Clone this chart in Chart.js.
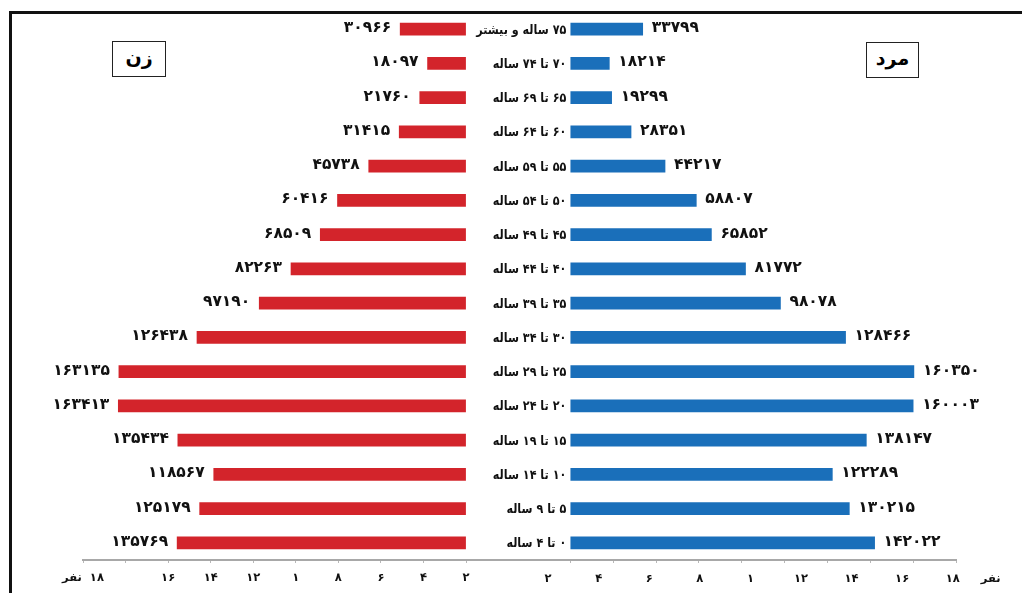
<!DOCTYPE html>
<html>
<head>
<meta charset="utf-8">
<script src="https://cdn.jsdelivr.net/npm/chart.js@4.4.1/dist/chart.umd.min.js"></script>
<style>
  html, body { margin:0; padding:0; background:#fff; }
  body { width:1022px; height:593px; position:relative; overflow:hidden; font-family:"DejaVu Sans", sans-serif; }
  .frame { position:absolute; left:9px; top:11px; width:1100px; height:700px; border-top:3px solid #111; border-left:3px solid #111; }
  .box { position:absolute; border:1.5px solid #222; background:#fff; font-weight:bold; font-size:19px; text-align:center; direction:rtl; box-sizing:border-box; }
  .wrap { position:absolute; top:0; height:593px; }
  canvas { direction:rtl; }
</style>
</head>
<body>
<div class="frame"></div>
<div class="wrap" id="wrapW" style="left:0;width:518px;"><canvas id="womenChart"></canvas></div>
<div class="wrap" id="wrapM" style="left:440px;width:582px;"><canvas id="menChart"></canvas></div>
<div class="box" style="left:112px;top:41px;width:54px;height:36px;line-height:30px;">زن</div>
<div class="box" style="left:866px;top:42px;width:53px;height:36px;line-height:30px;">مرد</div>

<script>
/* ===========================
   DATA
=========================== */
const ageGroups = [
    "۰ تا ۴ ساله", "۵ تا ۹ ساله", "۱۰ تا ۱۴ ساله", "۱۵ تا ۱۹ ساله",
    "۲۰ تا ۲۴ ساله", "۲۵ تا ۲۹ ساله", "۳۰ تا ۳۴ ساله", "۳۵ تا ۳۹ ساله",
    "۴۰ تا ۴۴ ساله", "۴۵ تا ۴۹ ساله", "۵۰ تا ۵۴ ساله", "۵۵ تا ۵۹ ساله",
    "۶۰ تا ۶۴ ساله", "۶۵ تا ۶۹ ساله", "۷۰ تا ۷۴ ساله", "۷۵ ساله و بیشتر"
];

const women = [135769, 125179, 118567, 135434, 163413, 163135, 126438, 97190,
               82263, 68509, 60416, 45738, 31415, 21760, 18097, 30966];

const men = [142022, 130215, 122289, 138147, 160003, 160350, 128466, 98078,
             81772, 65852, 58807, 44217, 28351, 19299, 18214, 33799];

// tick marks on the axis line, in people
const tickValues = [0, 20000, 40000, 60000, 80000, 100000, 120000, 140000, 160000, 180000];
const womenTickLabels = ["۲", "۴", "۶", "۸", "۱", "۱۲", "۱۴", "۱۶", "", "۱۸  نفر"];

// right side labels sit on their own spacing
const menTickPos = [2, 4, 6, 8, 10, 12, 14, 16, 18, 19.5];
const menTickLabels = ["۲", "۴", "۶", "۸", "۱", "۱۲", "۱۴", "۱۶", "۱۸", "نفر"];

/* ===========================
   HELPERS
=========================== */
const FONT = '"DejaVu Sans", sans-serif';
const GAP = -24400;   // room in the middle for the age labels

function toFa(n){
    return String(n).replace(/\d/g, d => "۰۱۲۳۴۵۶۷۸۹"[d]);
}

const valueLabels = {
    id:"valueLabels",
    afterDatasetsDraw(chart, args, opts){
        const ctx = chart.ctx;
        const meta = chart.getDatasetMeta(0);
        const data = chart.data.datasets[0].data;
        ctx.save();
        ctx.font = "bold 15.5px " + FONT;
        ctx.fillStyle = "#111";
        ctx.textBaseline = "middle";
        ctx.textAlign = opts.side === "left" ? "right" : "left";
        meta.data.forEach((bar, i) => {
            const x = opts.side === "left" ? bar.x - 9 : bar.x + 9;
            ctx.fillText(toFa(data[i]), x, bar.y - 1);
        });
        if(opts.categories){
            // age labels, a little narrower than the font
            const x0 = chart.scales.x.getPixelForValue(0) - 4;
            const sx = 0.86;
            ctx.font = "bold 13px " + FONT;
            ctx.textAlign = "right";
            meta.data.forEach((bar, i) => {
                ctx.save();
                ctx.translate(x0, bar.y + 1);
                ctx.scale(sx, 1);
                ctx.fillText(chart.data.labels[i], 0, 0);
                ctx.restore();
            });
        }
        ctx.restore();
    }
};

const yAxis = { display:false, reverse:true, grid:{ display:false } };

/* ===========================
   WOMEN (LEFT)
=========================== */
new Chart(document.getElementById("womenChart"), {
    type:"bar",
    data:{
        labels:ageGroups,
        datasets:[{ label:"زن", data:women, backgroundColor:"#d3242b", barThickness:12 }]
    },
    options:{
        indexAxis:"y",
        responsive:true,
        maintainAspectRatio:false,
        animation:false,
        layout:{ padding:{ left:83, right:0, top:12, bottom:0 } },
        plugins:{
            legend:{ display:false },
            tooltip:{ enabled:false },
            valueLabels:{ side:"left" }
        },
        scales:{
            x:{
                type:"linear",
                reverse:true,
                min:GAP,
                max:180000,
                afterBuildTicks:s => { s.ticks = tickValues.map(v => ({ value:v })); },
                afterFit:s => { s.height = 33; },
                ticks:{
                    callback:(v, i) => womenTickLabels[i],
                    color:"#111",
                    font:{ family:FONT, size:11.5, weight:"bold" },
                    padding:8,
                    maxRotation:0,
                    autoSkip:false
                },
                grid:{ drawOnChartArea:false, drawTicks:true, tickLength:3, color:"#b8b8b8" },
                border:{ color:"#a8a8a8", width:2 }
            },
            y:yAxis
        }
    },
    plugins:[valueLabels]
});

/* ===========================
   MEN (RIGHT)
=========================== */
new Chart(document.getElementById("menChart"), {
    type:"bar",
    data:{
        labels:ageGroups,
        datasets:[{ label:"مرد", data:men, backgroundColor:"#1a6fba", barThickness:12 }]
    },
    options:{
        indexAxis:"y",
        responsive:true,
        maintainAspectRatio:false,
        animation:false,
        layout:{ padding:{ left:78, right:66, top:12, bottom:0 } },
        plugins:{
            legend:{ display:false },
            tooltip:{ enabled:false },
            valueLabels:{ side:"right", categories:true }
        },
        scales:{
            x:{
                type:"linear",
                min:GAP,
                max:180000,
                weight:0,
                afterBuildTicks:s => { s.ticks = tickValues.map(v => ({ value:v })); },
                afterFit:s => { s.height = 4; },
                ticks:{ display:false },
                grid:{ drawOnChartArea:false, drawTicks:true, tickLength:3, color:"#b8b8b8" },
                border:{ color:"#a8a8a8", width:2 }
            },
            x2:{
                type:"linear",
                position:"bottom",
                weight:1,
                min:0.81,
                max:18.13,
                afterBuildTicks:s => { s.ticks = menTickPos.map(v => ({ value:v })); },
                afterFit:s => { s.height = 29; },
                ticks:{
                    callback:(v, i) => menTickLabels[i],
                    color:"#111",
                    font:{ family:FONT, size:11.5, weight:"bold" },
                    padding:8,
                    maxRotation:0,
                    autoSkip:false
                },
                grid:{ display:false, drawTicks:false },
                border:{ display:false }
            },
            y:yAxis
        }
    },
    plugins:[valueLabels]
});
</script>
</body>
</html>
